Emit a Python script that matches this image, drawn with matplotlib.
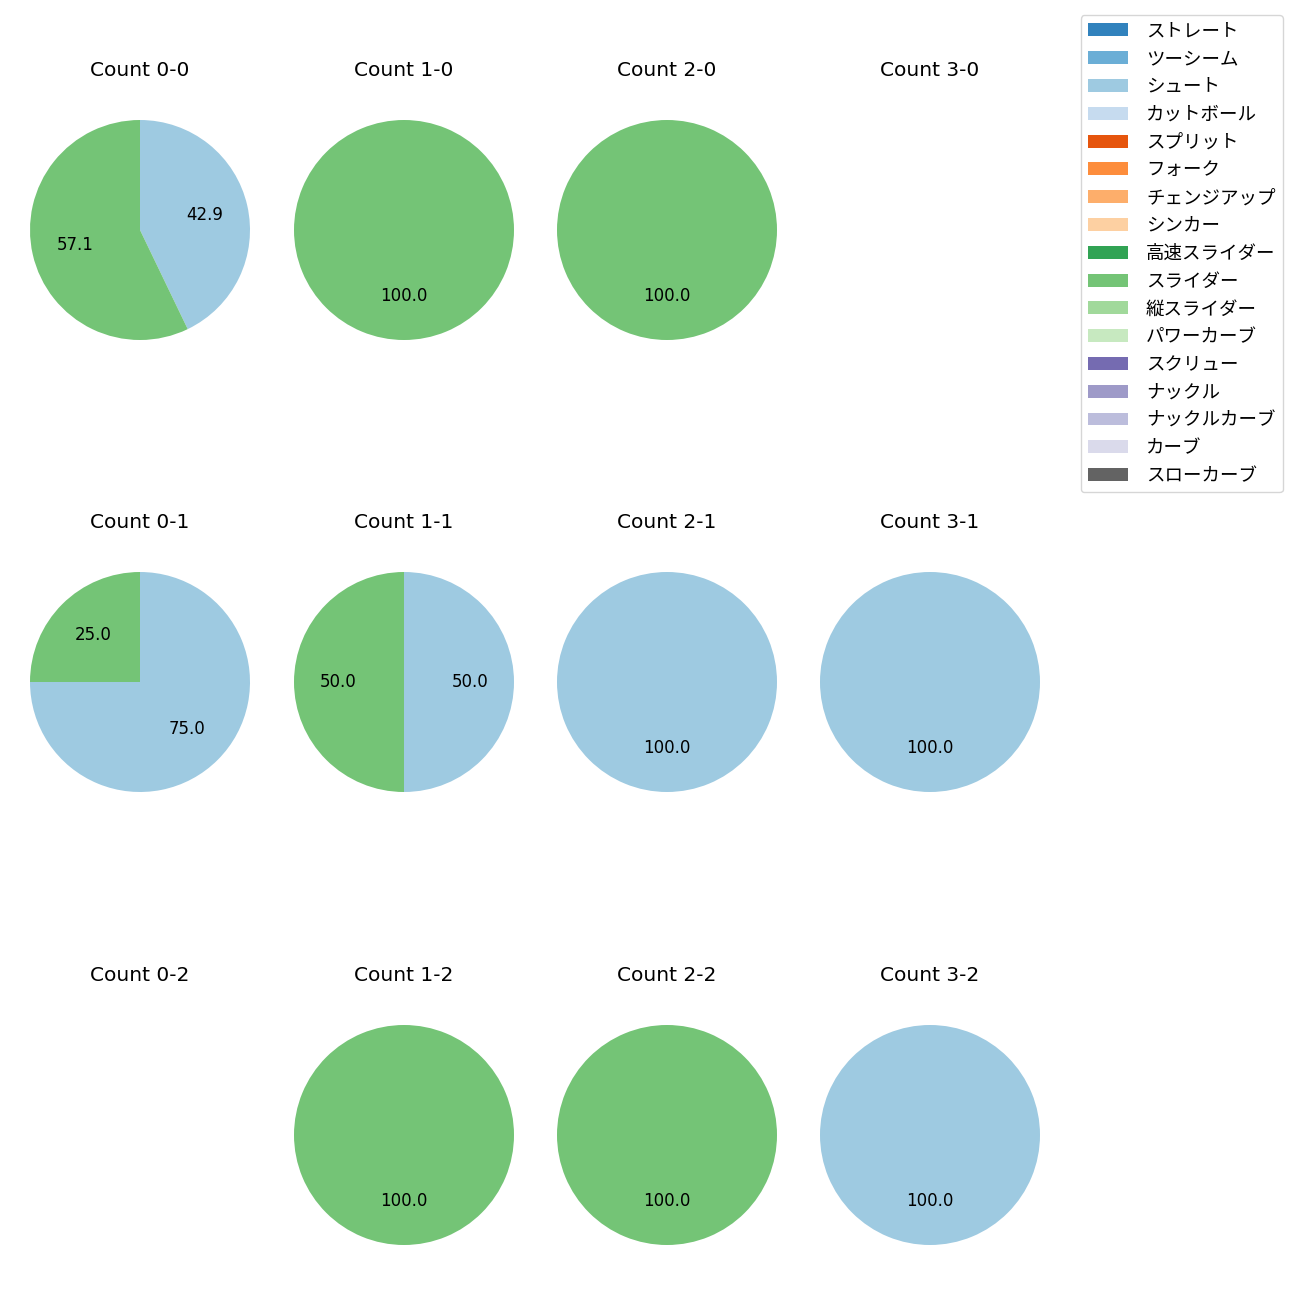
import matplotlib.pyplot as plt
from matplotlib.patches import Patch

plt.rcParams['font.family'] = ['DejaVu Sans', 'Noto Sans CJK JP']

# ── data ──────────────────────────────────────────────────────────────────────
pitch_types = ['ストレート', 'ツーシーム', 'シュート', 'カットボール', 'スプリット',
               'フォーク', 'チェンジアップ', 'シンカー', '高速スライダー', 'スライダー',
               '縦スライダー', 'パワーカーブ', 'スクリュー', 'ナックル', 'ナックルカーブ',
               'カーブ', 'スローカーブ']
counts = ['0-0', '1-0', '2-0', '3-0',
          '0-1', '1-1', '2-1', '3-1',
          '0-2', '1-2', '2-2', '3-2']
shoot  = [3, 0, 0, 0, 3, 1, 1, 1, 0, 0, 0, 1]
slider = [4, 1, 1, 0, 1, 1, 0, 0, 0, 1, 1, 0]

cmap = plt.get_cmap('tab20c')
colors = [cmap(i) for i in range(len(pitch_types))]
SHOOT_C = colors[pitch_types.index('シュート')]
SLIDER_C = colors[pitch_types.index('スライダー')]

# ── layout (pixels) ───────────────────────────────────────────────────────────
W = H = 1300
col_x = [140, 404, 667, 930]
row_y = [230, 682, 1135]
R = 110
box = 2.5 * R

fig = plt.figure(figsize=(13, 13), dpi=100)

for k, cnt in enumerate(counts):
    r, c = divmod(k, 4)
    cx, cy = col_x[c], row_y[r]
    ax = fig.add_axes([(cx - box / 2) / W, 1 - (cy + box / 2) / H, box / W, box / H])
    vals, cols = [], []
    if shoot[k]:
        vals.append(shoot[k]); cols.append(SHOOT_C)
    if slider[k]:
        vals.append(slider[k]); cols.append(SLIDER_C)
    if vals:
        ax.pie(vals, colors=cols, startangle=90, counterclock=False,
               autopct='%.1f', textprops=dict(fontsize=12))
    ax.set_xlim(-1.25, 1.25)
    ax.set_ylim(-1.25, 1.25)
    ax.axis('off')
    ax.set_title(f'Count {cnt}', fontsize=14.5, pad=12)

handles = [Patch(facecolor=col) for col in colors]
fig.legend(handles, pitch_types, loc='upper right',
           bbox_to_anchor=(1283 / W, 1 - 15 / H), borderaxespad=0,
           prop=dict(family=['Noto Sans CJK JP'], size=13.3),
           labelspacing=0.53, handlelength=2.15, handletextpad=1.0)

plt.savefig('out.png', dpi=100, facecolor='white')
